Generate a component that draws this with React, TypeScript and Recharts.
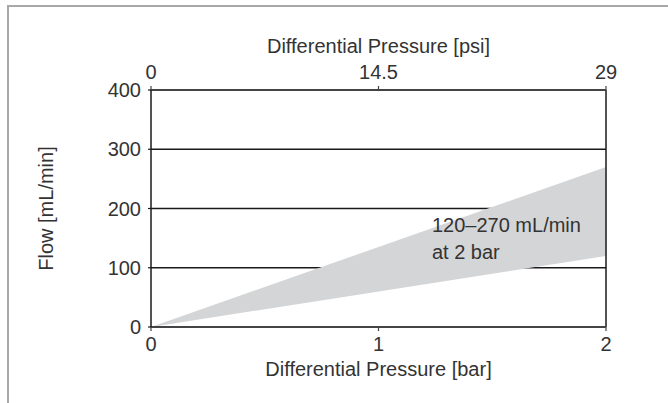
import React from 'react';
import {
  ComposedChart,
  Area,
  XAxis,
  YAxis,
  CartesianGrid,
  ReferenceLine,
  ReferenceDot,
  Label,
} from 'recharts';

// flow range vs differential pressure
const pressureBar = [0, 2];
const pressurePsi = [0, 29];
const flowLow = [0, 120];
const flowHigh = [0, 270];

const barTicks = [0, 1, 2];
const psiTicks = [0, 14.5, 29];
const flowTicks = [0, 100, 200, 300, 400];

const noteLines = ['120–270 mL/min', 'at 2 bar'];
const notePos = [
  { bar: 1.235, flow: 160 },
  { bar: 1.235, flow: 115 },
];

const FONT = '"Liberation Sans", Arial, sans-serif';
const TEXT = '#333333';

const data = pressureBar.map((p, i) => ({
  bar: p,
  psi: pressurePsi[i],
  range: [flowLow[i], flowHigh[i]],
}));

export default function App() {
  const tickStyle = { fill: TEXT, fontSize: 20, fontFamily: FONT };

  return (
    <div style={{ position: 'absolute', left: 0, top: 0, width: 668, height: 403, background: '#fff' }}>
      <div
        style={{
          position: 'absolute',
          left: 7,
          top: 5,
          right: 0,
          bottom: 0,
          borderLeft: '2px solid #a8a8a8',
          borderTop: '2px solid #a8a8a8',
        }}
      />
      <div style={{ position: 'absolute', left: 0, top: 0 }}>
        <ComposedChart
          width={668}
          height={403}
          data={data}
          margin={{ top: 50, right: 62, bottom: 36, left: 91 }}
        >
          <CartesianGrid vertical={false} stroke="#1a1a1a" strokeWidth={1.3} yAxisId="flow" xAxisId="bar" />
          <XAxis
            xAxisId="bar"
            dataKey="bar"
            type="number"
            domain={[0, 2]}
            ticks={barTicks}
            height={40}
            tickSize={4}
            tickMargin={6}
            tick={tickStyle}
            axisLine={{ stroke: '#444', strokeWidth: 2 }}
            tickLine={{ stroke: '#444', strokeWidth: 1.2 }}
          >
            <Label
              content={({ viewBox }: any) => (
                <text
                  x={viewBox.x + viewBox.width / 2}
                  y={viewBox.y + 49}
                  textAnchor="middle"
                  fill={TEXT}
                  fontSize={20}
                  fontFamily={FONT}
                >
                  Differential Pressure [bar]
                </text>
              )}
            />
          </XAxis>
          <XAxis
            xAxisId="psi"
            dataKey="psi"
            orientation="top"
            type="number"
            domain={[0, 29]}
            ticks={psiTicks}
            interval={0}
            height={40}
            tickSize={4}
            tickMargin={7}
            tick={tickStyle}
            axisLine={{ stroke: '#444', strokeWidth: 2 }}
            tickLine={{ stroke: '#444', strokeWidth: 1.2 }}
          >
            <Label
              content={({ viewBox }: any) => (
                <text
                  x={viewBox.x + viewBox.width / 2}
                  y={viewBox.y + 3}
                  textAnchor="middle"
                  fill={TEXT}
                  fontSize={20}
                  fontFamily={FONT}
                >
                  Differential Pressure [psi]
                </text>
              )}
            />
          </XAxis>
          <YAxis
            yAxisId="flow"
            type="number"
            domain={[0, 400]}
            ticks={flowTicks}
            width={60}
            tickSize={3}
            tickMargin={7}
            tick={tickStyle}
            axisLine={{ stroke: '#1a1a1a', strokeWidth: 1.5 }}
            tickLine={{ stroke: '#1a1a1a', strokeWidth: 1.2 }}
          >
            <Label
              content={({ viewBox }: any) => {
                const cx = viewBox.x - 45;
                const cy = viewBox.y + viewBox.height / 2;
                return (
                  <text
                    x={cx}
                    y={cy}
                    transform={`rotate(-90, ${cx}, ${cy})`}
                    textAnchor="middle"
                    dominantBaseline="central"
                    fill={TEXT}
                    fontSize={20}
                    fontFamily={FONT}
                  >
                    Flow [mL/min]
                  </text>
                );
              }}
            />
          </YAxis>
          <Area
            xAxisId="bar"
            yAxisId="flow"
            type="linear"
            dataKey="range"
            stroke="none"
            fill="#d4d5d7"
            fillOpacity={1}
            isAnimationActive={false}
          />
          <ReferenceLine xAxisId="bar" yAxisId="flow" x={2} stroke="#1a1a1a" strokeWidth={1.5} />
          {noteLines.map((line, i) => (
            <ReferenceDot
              key={line}
              xAxisId="bar"
              yAxisId="flow"
              x={notePos[i].bar}
              y={notePos[i].flow}
              shape={(p: any) => (
                <text x={p.cx} y={p.cy} fill={TEXT} fontSize={20} fontFamily={FONT}>
                  {line}
                </text>
              )}
            />
          ))}
        </ComposedChart>
      </div>
    </div>
  );
}
